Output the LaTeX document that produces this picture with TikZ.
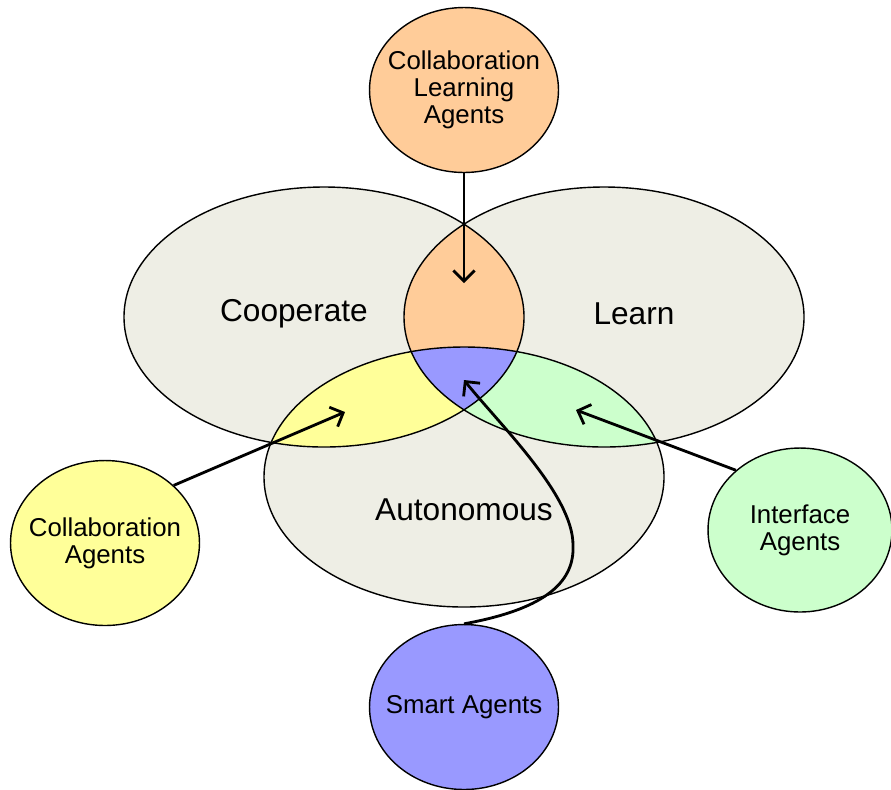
\documentclass[tikz,border=0pt]{standalone}
\usepackage{fontspec}
\setmainfont{Liberation Sans}
\usetikzlibrary{arrows.meta, positioning, shapes}
\definecolor{my_gray}{RGB}{238, 238, 229}
\definecolor{my_orange}{RGB}{255, 204, 153}
\definecolor{my_yellow}{RGB}{255, 255, 153}
\definecolor{my_green}{RGB}{204, 255, 204}
\definecolor{my_blue}{RGB}{153, 153, 255}
\tikzset {
  agent/.style = {draw, line width=0.8pt, ellipse, inner xsep=-10pt, inner ysep=0pt, text centered, align=center, minimum width=3.78cm, minimum height=3.3cm, font=\fontsize{14.7}{15.5}\selectfont},
  setlabel/.style = {font=\fontsize{18}{20}\selectfont},
  venn/.style = {draw, line width=0.8pt},
  line/.style = {-{Straight Barb[length=6pt, width=12pt]}, line width=1.6pt, color=black}
}
\def\coopPath{(324,317) ellipse [x radius=200, y radius=130]}
\def\learnPath{(604,317) ellipse [x radius=200, y radius=130]}
\def\autoPath{(464,477) ellipse [x radius=200, y radius=130]}

\begin{document}
\begin{tikzpicture}[x=0.02cm, y=-0.02cm]
    \useasboundingbox (0,0) rectangle (891,789);

    % the three sets
    \fill[my_gray] \coopPath;
    \fill[my_gray] \learnPath;
    \fill[my_gray] \autoPath;
    \begin{scope}
        \clip \coopPath;
        \fill[my_orange] \learnPath;
        \fill[my_yellow] \autoPath;
    \end{scope}
    \begin{scope}
        \clip \learnPath;
        \fill[my_green] \autoPath;
    \end{scope}
    \begin{scope}
        \clip \coopPath;
        \clip \learnPath;
        \fill[my_blue] \autoPath;
    \end{scope}
    \draw[venn] \coopPath;
    \draw[venn] \learnPath;
    \draw[venn] \autoPath;

    \node[setlabel] (cooperate) at (294,314) {Cooperate};
    \node[setlabel] (learn) at (634,314) {Learn};
    \node[setlabel] (autonomous) at (464,510) {Autonomous};

    % the agents
    \node[agent, fill=my_orange] (cla) at (464,90) {Collaboration\\Learning\\Agents};
    \node[agent, fill=my_yellow] (ca) at (105,543) {Collaboration\\Agents};
    \node[agent, fill=my_green, minimum width=3.68cm, minimum height=3.28cm] (ia) at (800,530) {Interface\\Agents};
    \node[agent, fill=my_blue] (sa) at (464,707) {Smart Agents};

    \coordinate (coop_learn) at (464,283);
    \coordinate (coop_auto) at (345,412);
    \coordinate (learn_auto) at (576,410);
    \coordinate (all_three) at (464,380);

    \draw[line] (cla.south) -- (coop_learn);
    \draw[line] (ca.40) -- (coop_auto);
    \draw[line] (ia.137) -- (learn_auto);
    \draw[line] (sa.north) .. controls (540,610) and (575,585) .. (573,545)
        .. controls (573,495) and (500,425) .. (all_three);

\end{tikzpicture}
\end{document}
